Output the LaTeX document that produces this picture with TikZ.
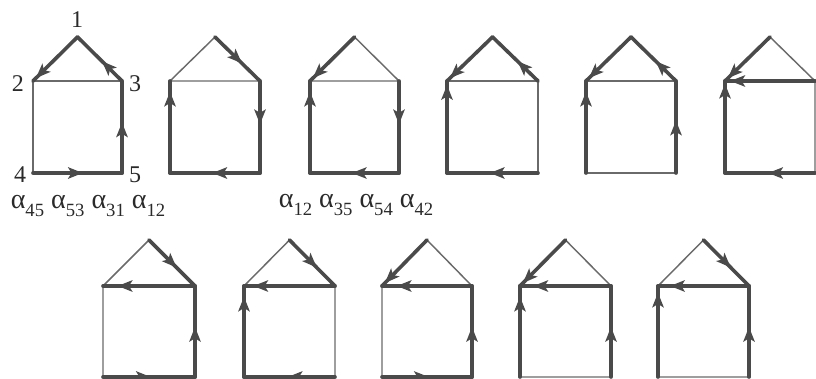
\documentclass[tikz,border=0pt]{standalone}
\usepackage{fontspec}
\setmainfont{Liberation Serif}
\usetikzlibrary{arrows.meta,decorations.markings}
\definecolor{thkc}{HTML}{4A4A4A}
\definecolor{thnc}{HTML}{6A6A6A}
\definecolor{txc}{HTML}{2A2A2A}
\newcommand\mkhouse[6]{%
  \coordinate (#1-1) at ({(#2+#3)/2},#4);
  \coordinate (#1-2) at (#2,#5);
  \coordinate (#1-3) at (#3,#5);
  \coordinate (#1-4) at (#2,#6);
  \coordinate (#1-5) at (#3,#6);}
\newcommand\asub[1]{α\raisebox{-0.6ex}{\fontsize{14}{15}\selectfont #1}}
\tikzset{
  thinedge/.style={draw=thnc, line width=1.1pt},
  thk/.style={draw=thkc, line width=2.7pt, line cap=round,
    postaction={decorate, decoration={markings,
      mark=at position #1 with {\arrow{Stealth[length=11pt 0 0,width=8.5pt 0 0,inset=2.5pt 0]}}}}},
  vlbl/.style={text=txc, font=\fontsize{18}{19}\selectfont, inner sep=0pt},
  albl/.style={text=txc, font=\fontsize{21}{22}\selectfont, inner sep=0pt},
}
\begin{document}
\begin{tikzpicture}[x=0.75pt,y=-0.75pt]
\useasboundingbox (0,0) rectangle (816,378);
\clip (0,0) rectangle (816,378);
% houses: name, left, right, apex y, eave y, bottom y
\mkhouse{A}{33}{122}{37}{81}{173}
\mkhouse{B}{170}{260}{37}{81}{173}
\mkhouse{C}{310}{399}{37}{81}{173}
\mkhouse{D}{447}{538}{37}{81}{173}
\mkhouse{E}{586}{676}{37}{81}{173}
\mkhouse{F}{725}{815}{37}{81}{173}
\mkhouse{G}{103}{195}{240}{286}{377}
\mkhouse{H}{244}{335}{240}{286}{377}
\mkhouse{I}{382}{472}{240}{286}{377}
\mkhouse{J}{520}{611}{240}{286}{377}
\mkhouse{K}{658}{749}{240}{286}{377}
% thin edges
\draw[thinedge] (A-2) -- (A-3) (A-2) -- (A-4);
\draw[thinedge] (B-1) -- (B-2) (B-2) -- (B-3);
\draw[thinedge] (C-1) -- (C-3) (C-2) -- (C-3);
\draw[thinedge] (D-2) -- (D-3) (D-3) -- (D-5);
\draw[thinedge] (E-2) -- (E-3) (E-4) -- (E-5);
\draw[thinedge] (F-1) -- (F-3) (F-3) -- (F-5);
\draw[thinedge] (G-1) -- (G-2) (G-2) -- (G-4);
\draw[thinedge] (H-1) -- (H-2) (H-3) -- (H-5);
\draw[thinedge] (I-1) -- (I-3) (I-2) -- (I-4);
\draw[thinedge] (J-1) -- (J-3) (J-4) -- (J-5);
\draw[thinedge] (K-1) -- (K-2) (K-4) -- (K-5);
% thick directed edges
% A: 45 53 31 12
\draw[thk=0.56] (A-4) -- (A-5);
\draw[thk=0.55] (A-5) -- (A-3);
\draw[thk=0.45] (A-3) -- (A-1);
\draw[thk=-3pt] (A-1) -- (A-2);
% B: 13 35 54 42
\draw[thk=0.6] (B-1) -- (B-3);
\draw[thk=0.47] (B-3) -- (B-5);
\draw[thk=0.53] (B-5) -- (B-4);
\draw[thk=-8pt] (B-4) -- (B-2);
% C: 12 35 54 42
\draw[thk=-3pt] (C-1) -- (C-2);
\draw[thk=0.47] (C-3) -- (C-5);
\draw[thk=0.53] (C-5) -- (C-4);
\draw[thk=-8pt] (C-4) -- (C-2);
% D: 31 12 54 42
\draw[thk=0.45] (D-3) -- (D-1);
\draw[thk=-3pt] (D-1) -- (D-2);
\draw[thk=0.53] (D-5) -- (D-4);
\draw[thk=-3pt] (D-4) -- (D-2);
% E: 31 12 42 53
\draw[thk=0.45] (E-3) -- (E-1);
\draw[thk=-3pt] (E-1) -- (E-2);
\draw[thk=-8pt] (E-4) -- (E-2);
\draw[thk=0.57] (E-5) -- (E-3);
% F: 12 32 42 54
\draw[thk=-3pt] (F-1) -- (F-2);
\draw[thk=-4pt] (F-3) -- (F-2);
\draw[thk=-2pt] (F-4) -- (F-2);
\draw[thk=0.52] (F-5) -- (F-4);
% G: 13 32 53 45
\draw[thk=0.6] (G-1) -- (G-3);
\draw[thk=-11pt] (G-3) -- (G-2);
\draw[thk=0.55] (G-5) -- (G-3);
\draw[thk=0.52] (G-4) -- (G-5);
% H: 13 32 42 54
\draw[thk=0.6] (H-1) -- (H-3);
\draw[thk=-7pt] (H-3) -- (H-2);
\draw[thk=-8pt] (H-4) -- (H-2);
\draw[thk=0.52] (H-5) -- (H-4);
% I: 12 32 53 45
\draw[thk=-3pt] (I-1) -- (I-2);
\draw[thk=-11pt] (I-3) -- (I-2);
\draw[thk=0.55] (I-5) -- (I-3);
\draw[thk=0.52] (I-4) -- (I-5);
% J: 12 32 42 53
\draw[thk=-3pt] (J-1) -- (J-2);
\draw[thk=-10pt] (J-3) -- (J-2);
\draw[thk=-8pt] (J-4) -- (J-2);
\draw[thk=0.55] (J-5) -- (J-3);
% K: 13 32 42 53
\draw[thk=0.6] (K-1) -- (K-3);
\draw[thk=-9pt] (K-3) -- (K-2);
\draw[thk=-5pt] (K-4) -- (K-2);
\draw[thk=0.55] (K-5) -- (K-3);
% vertex labels
\node[vlbl] (n1) at (77,20) {1};
\node[vlbl] (n2) at (18,84) {2};
\node[vlbl] (n3) at (135,84) {3};
\node[vlbl] (n4) at (20,175) {4};
\node[vlbl] (n5) at (135,175) {5};
% products
\node[albl] (pA) at (88,206) {\asub{45} \asub{53} \asub{31} \asub{12}};
\node[albl] (pC) at (356,205) {\asub{12} \asub{35} \asub{54} \asub{42}};
\end{tikzpicture}
\end{document}
